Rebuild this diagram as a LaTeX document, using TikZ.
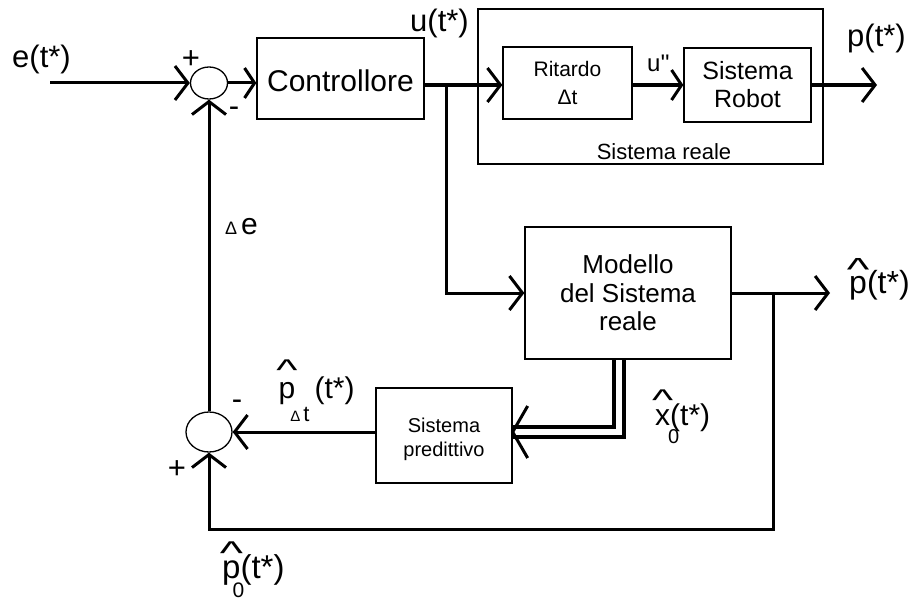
\documentclass[tikz,border=0pt]{standalone}
\usepackage{graphicx}
\usepackage{fontspec}
\setmainfont{Liberation Sans}
\usetikzlibrary{arrows.meta,shapes.geometric,calc}
\newcommand\fs[1]{\fontsize{#1}{#1}\selectfont}
\newcommand\fsz[2]{\fontsize{#1}{#2}\selectfont}
\newcommand\hatmark[2][0.5em]{\ooalign{#2\cr\hidewidth\raisebox{#1}{\scalebox{1.5}[1]{\textasciicircum}}\hidewidth\cr}}
\begin{document}
\begin{tikzpicture}[x=1pt,y=-1pt,
  box/.style={draw,line width=1.3pt,inner sep=0pt,align=center},
  conn/.style={line width=3pt},
  arr/.style={conn,-{Straight Barb[length=13pt,width=34pt]}},
  arrs/.style={conn,-{Straight Barb[length=10pt,width=30pt]}},
  sumnode/.style={draw,ellipse,line width=1.3pt,inner sep=0pt},
  lbl/.style={inner sep=0pt,font=\fs{31}}]
\fill[white] (0,0) rectangle (913,602);
\useasboundingbox (0,0) rectangle (913,602);

% blocks
\node[sumnode,minimum width=37pt,minimum height=32pt] (c1) at (209,83) {};
\node[sumnode,minimum width=46pt,minimum height=40pt] (c2) at (209,432) {};
\node[box,minimum width=167pt,minimum height=81pt,font=\fs{30}] (ctrl) at (340.5,78.5) {\rule{0pt}{27pt}Controllore};
\node[box,minimum width=345pt,minimum height=155pt] (real) at (650.5,86.5) {};
\node[box,minimum width=129pt,minimum height=72pt,font=\fsz{21}{28}] (rit) at (567.5,83) {Ritardo\\Δt};
\node[box,minimum width=127pt,minimum height=74pt,font=\fsz{25}{28}] (rob) at (747.5,85) {Sistema\\Robot};
\node[box,minimum width=206pt,minimum height=132pt,font=\fsz{26}{28.5}] (mod) at (628,293) {Modello\\del Sistema\\reale};
\node[box,minimum width=136pt,minimum height=95pt,font=\fsz{20}{24}] (pred) at (444,435.5) {\rule{0pt}{23pt}Sistema\\predittivo};
\node[lbl,font=\fs{22},anchor=base] (realtxt) at (664,159) {Sistema reale};

% coordinates
\coordinate (ein) at (50,83);
\coordinate (b1) at (446,85);
\coordinate (pout) at (877,85);
\coordinate (b2) at (773,293);
\coordinate (phout) at (830,293);
\coordinate (b3) at (773,529);
\coordinate (dj) at (619,432);
\coordinate (dtip) at (pred.east |- dj);

% connectors
\draw[arr] (ein) -- (c1.west);
\draw[arrs] (c1.east) -- (ctrl.west |- c1.east);
\draw[arr] (ctrl.east |- b1) -- (rit.west |- b1);
\draw[arrs] (rit.east |- b1) -- (rob.west |- b1);
\draw[arr] (rob.east |- b1) -- (pout);
\draw[arr] (b1) |- (mod.west);
\draw[arr] (mod.east) -- (phout);
\draw[arr] (b2) -- (b3) -| (c2.south);
\draw[arr] (pred.west |- c2.east) -- (c2.east);
\draw[arr] (c2.north) -- (c1.south);
\draw[line width=3.3pt,double,double distance=6.7pt] ([yshift=-0.7pt]mod.south -| dj) -- (dj) -- ([xshift=0.7pt]dtip);
\draw[conn] ($(dtip)+(15,-26)$) -- (dtip) -- ($(dtip)+(15,26)$);

% labels
\node[lbl,anchor=base west] (e) at (12,68) {e(t*)};
\node[lbl,anchor=base west] (u) at (410,32) {u(t*)};
\node[lbl,anchor=base west] (p) at (847,47) {p(t*)};
\node[lbl,font=\fs{24},anchor=base west] (upp) at (647,72) {u\textquotesingle\textquotesingle};
\node[lbl] (pl1) at (191,60) {+};
\node[lbl] (mi1) at (234,112) {-};
\node[lbl] (mi2) at (237,405) {-};
\node[lbl] (pl2) at (177,470) {+};
\node[lbl,font=\fs{30},anchor=base west] (de) at (225,234) {{\fs{18}Δ}\hspace{4pt}e};
\node[lbl,font=\fs{30},anchor=base west] (pdt) at (278.5,398) {\hatmark[0.58em]{p}\hspace{-5pt}\raisebox{-23pt}{{\fs{15}Δ}\hspace{3pt}{\fs{22}t}}\hspace{5pt}(t*)};
\node[lbl,font=\fs{30},anchor=base west] (x0) at (655,425) {\hatmark[0.5em]{x}\rlap{\hspace{-2pt}\raisebox{-18pt}{\fs{20}0}}(t*)};
\node[lbl,font=\fs{33},anchor=base west] (p0) at (222,578) {\hatmark[0.42em]{p}\rlap{\hspace{-8pt}\raisebox{-19pt}{\fs{21}0}}(t*)};
\node[lbl,font=\fs{32},anchor=base west] (phat) at (849,293) {\hatmark[0.38em]{p}(t*)};
\end{tikzpicture}
\end{document}
